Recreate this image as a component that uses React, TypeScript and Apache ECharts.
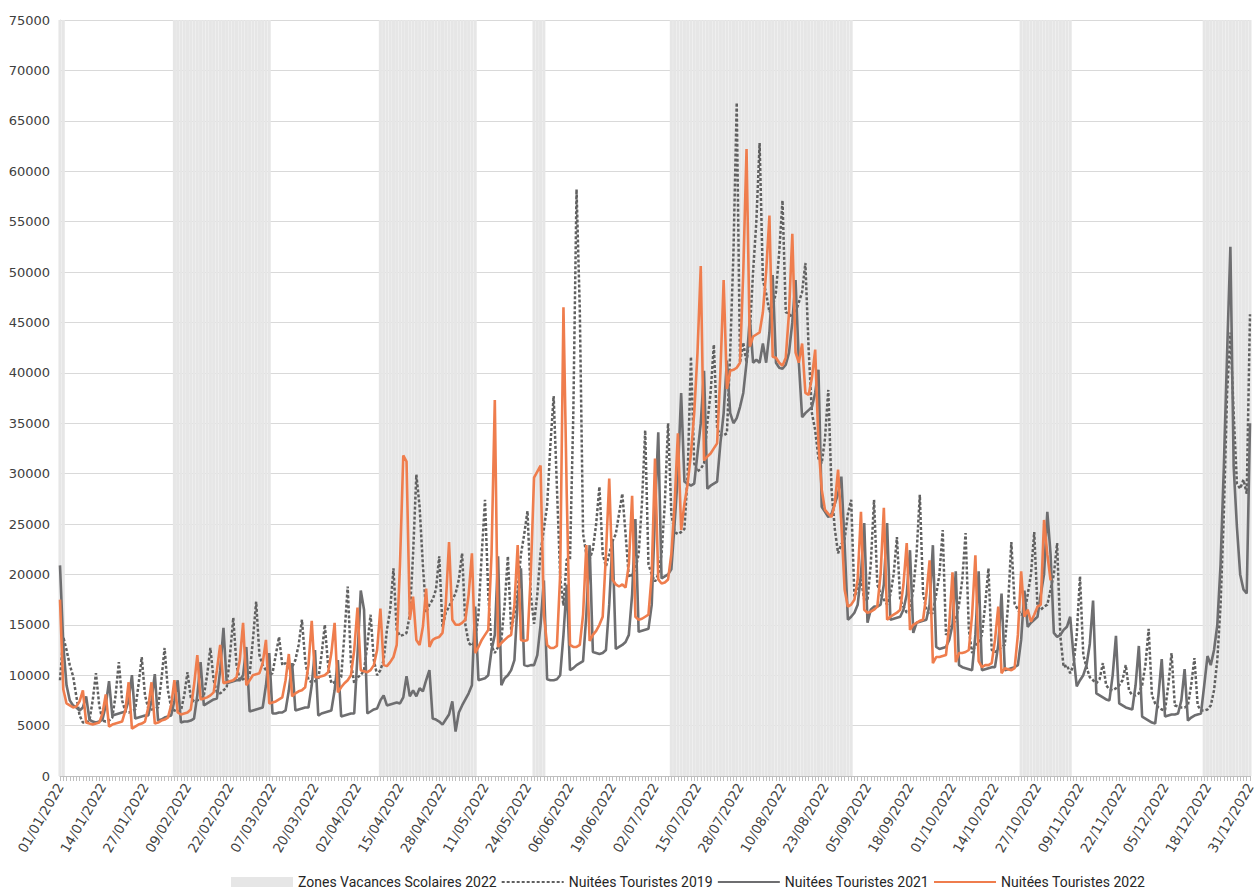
import React, { useEffect, useRef } from "react";
import * as echarts from "echarts";

// ---- categories (every day of 2022) ----
function buildDates(): string[] {
  const out: string[] = [];
  const start = Date.UTC(2022, 0, 1);
  for (let i = 0; i < 365; i++) {
    const d = new Date(start + i * 86400000);
    const dd = String(d.getUTCDate()).padStart(2, "0");
    const mm = String(d.getUTCMonth() + 1).padStart(2, "0");
    out.push(`${dd}/${mm}/${d.getUTCFullYear()}`);
  }
  return out;
}
const categories = buildDates();

// ---- school holiday periods (zones) 2022 ----
const holidayRanges: [string, string][] = [
  ["01/01/2022", "02/01/2022"],
  ["05/02/2022", "06/03/2022"],
  ["09/04/2022", "08/05/2022"],
  ["26/05/2022", "29/05/2022"],
  ["07/07/2022", "31/08/2022"],
  ["22/10/2022", "06/11/2022"],
  ["17/12/2022", "31/12/2022"],
];
const holidayHeight = 75000;

// ---- Nuitées Touristes 2019 ----
const nuitees2019 = [
  9500, 13800, 12500, 11000, 9900, 7900, 6000,
  5300, 5300, 5500, 7500, 10200, 7000, 5500,
  5400, 5500, 5800, 8000, 11300, 7500, 6400,
  6300, 6400, 6600, 9000, 11800, 8000, 6700,
  6600, 6700, 6800, 9500, 12700, 8500, 6800,
  6500, 6400, 6500, 8000, 10300, 7800, 7400,
  7500, 7600, 8000, 10000, 12700, 9500, 8300,
  8200, 8500, 8800, 12000, 15700, 11000, 9500,
  9600, 9800, 10000, 13500, 17300, 12000, 11000,
  10500, 10000, 10200, 12000, 13800, 11000, 11200,
  10500, 10800, 11500, 13000, 15500, 11500, 9500,
  9300, 9400, 9600, 12000, 15000, 11000, 9200,
  9300, 9500, 9800, 14000, 18800, 11200, 9200,
  9800, 10000, 10500, 13000, 16000, 11500, 10000,
  10500, 11500, 14500, 16500, 20600, 14500, 13900,
  14000, 14200, 16000, 22000, 29900, 26700, 20900,
  16200, 17000, 17500, 18500, 21800, 14800, 16200,
  16800, 17500, 18100, 19500, 22100, 15000, 13200,
  12900, 13500, 16000, 22000, 27400, 18000, 12900,
  12200, 12800, 13500, 17000, 21800, 14500, 16000,
  18500, 22000, 24000, 26300, 18000, 15100, 18000,
  22200, 24500, 26800, 32800, 37700, 28600, 19700,
  16900, 21500, 21500, 35700, 58200, 46200, 24000,
  22000, 21500, 22500, 25000, 28700, 22000, 20800,
  22000, 23300, 24000, 26000, 28000, 24000, 19700,
  20000, 20500, 22000, 27000, 34300, 21000, 20000,
  19300, 20000, 22000, 27000, 35000, 26000, 24200,
  24000, 24200, 24500, 30000, 41600, 31000, 30200,
  30500, 31000, 35000, 38000, 42800, 34500, 33800,
  33800, 34000, 42000, 52000, 66800, 41000, 43000,
  41000, 44000, 50000, 55000, 62800, 49200, 47900,
  46000, 46500, 48000, 52000, 57100, 46000, 45900,
  45500, 46000, 47000, 48000, 50900, 42300, 36000,
  34300, 31500, 31000, 33500, 38300, 28400, 24500,
  22100, 23000, 23500, 26000, 27400, 17800, 18500,
  19500, 17500, 17500, 21000, 27400, 19000, 18100,
  17500, 17000, 18000, 20000, 23700, 17500, 16800,
  16200, 16500, 18500, 22000, 27900, 18100, 16500,
  16000, 16200, 18000, 20000, 24400, 14000, 14500,
  15000, 15500, 17000, 19500, 24100, 14500, 12200,
  13000, 13200, 14000, 17000, 20600, 12500, 12300,
  12500, 12800, 13000, 17000, 23200, 17100, 16500,
  16000, 16200, 18000, 20000, 24200, 16700, 16500,
  16800, 17000, 18500, 20000, 23100, 13800, 10800,
  11000, 10200, 11000, 14000, 19800, 12000, 10800,
  9800, 9500, 9200, 9600, 11200, 9000, 8600,
  8500, 8700, 9000, 9500, 11000, 8500, 8000,
  8000, 8200, 9000, 11000, 14600, 8000, 7200,
  6800, 6600, 6500, 9000, 12200, 7000, 6900,
  6800, 6800, 7000, 9000, 11700, 7000, 6500,
  6500, 6600, 7000, 8500, 11500, 17000, 26000,
  38000, 44000, 36000, 29000, 28500, 29400, 28000,
  45800,
];

// ---- Nuitées Touristes 2021 ----
const nuitees2021 = [
  20900, 13000, 9000, 7500, 7000, 6800, 6500,
  6800, 7900, 5600, 5400, 5300, 5400, 5600,
  7000, 9400, 6000, 6100, 6200, 6300, 6400,
  7500, 10000, 5700, 5800, 5900, 6000, 6000,
  7500, 10100, 5500, 5600, 5800, 5900, 6000,
  7500, 9500, 5300, 5400, 5400, 5500, 5700,
  8000, 11300, 7000, 7200, 7400, 7600, 7700,
  10500, 14700, 9200, 9300, 9400, 9500, 9500,
  10000, 12800, 6400, 6500, 6600, 6700, 6800,
  9000, 12200, 6200, 6200, 6300, 6300, 6500,
  8500, 11200, 6500, 6600, 6700, 6800, 6800,
  9000, 12500, 6000, 6200, 6300, 6400, 6500,
  8500, 11500, 5900, 6000, 6100, 6200, 6200,
  12000, 18400, 16500, 6200, 6400, 6600, 6700,
  7500, 8000, 7000, 7100, 7200, 7300, 7200,
  7800, 9900, 7900, 8500, 7900, 8700, 8400,
  9500, 10500, 5700, 5600, 5400, 5100, 5600,
  6100, 7400, 4400, 6300, 7000, 7600, 8200,
  9000, 16800, 9500, 9600, 9700, 10000, 12500,
  14000, 21800, 9000, 9700, 10000, 10500, 11500,
  17500, 20600, 11000, 10900, 11000, 11000, 12000,
  15000, 19400, 9600, 9500, 9500, 9600, 10000,
  14000, 19000, 10500, 10700, 11000, 11200, 11400,
  16000, 22900, 12300, 12200, 12100, 12200, 12500,
  17000, 23300, 12600, 12800, 13000, 13300, 14000,
  18000, 25500, 14300, 14400, 14500, 14600, 17000,
  26000, 34100, 19600, 19800, 20000, 20500, 25000,
  30000, 38000, 29200, 29000, 28800, 29000, 32000,
  35000, 40200, 28500, 28800, 29000, 29200, 33000,
  36000, 41200, 36000, 35000, 35500, 36600, 38000,
  41000, 45400, 41000, 41300, 41000, 42900, 41000,
  44000, 49700, 41000, 40500, 40400, 40800, 42000,
  45000, 49200, 41000, 35600, 36000, 36300, 36600,
  38000, 40300, 26700, 26200, 25700, 26000, 27000,
  28000, 29700, 23000, 15500, 15800, 16200, 17000,
  20000, 25100, 15200, 16500, 16800, 16800, 17000,
  19000, 25100, 15500, 15600, 15700, 15800, 16500,
  18000, 22400, 14200, 15200, 15300, 15400, 15500,
  17000, 22900, 12800, 12600, 12700, 12800, 13500,
  15000, 20300, 11000, 10800, 10700, 10600, 10500,
  14000, 20300, 10500, 10600, 10700, 10800, 10800,
  13000, 18100, 10500, 10600, 10700, 10800, 11000,
  13500, 18400, 14800, 15200, 15500, 15800, 18000,
  20000, 26200, 22000, 14200, 13800, 14000, 14500,
  14800, 15800, 12000, 8900, 9500, 10000, 11000,
  13100, 17400, 8200, 8000, 7800, 7600, 7500,
  10000, 13900, 7200, 7000, 6800, 6700, 6600,
  9000, 12900, 5900, 5700, 5500, 5300, 5200,
  8000, 11600, 5900, 6000, 6100, 6100, 6200,
  7500, 10600, 5500, 5800, 6000, 6100, 6200,
  9000, 11900, 11000, 12500, 15000, 21000, 30700,
  42000, 52500, 30700, 24700, 20000, 18500, 18100,
  35000,
];

// ---- Nuitées Touristes 2022 (until 31/10) ----
const nuitees2022 = [
  17500, 8600, 7200, 7000, 6800, 6900, 7400,
  8500, 5300, 5200, 5100, 5200, 5300, 6200,
  8100, 4900, 5100, 5200, 5300, 5400, 6500,
  9300, 4700, 4900, 5100, 5200, 5400, 6800,
  9300, 5200, 5300, 5500, 5600, 5800, 7000,
  9500, 6300, 6100, 6200, 6300, 6600, 9000,
  12000, 7600, 7700, 7800, 8000, 8300, 10500,
  13000, 9200, 9300, 9400, 9500, 9800, 11500,
  15200, 9000, 9500, 10000, 10100, 10200, 11200,
  13500, 7200, 7300, 7400, 7600, 7800, 9500,
  12100, 7900, 8200, 8400, 8500, 8800, 11000,
  15400, 9800, 9800, 9900, 10000, 10300, 12200,
  15200, 8300, 8800, 9200, 9500, 10000, 12500,
  16700, 10500, 10400, 10300, 10500, 11000, 12500,
  16600, 11000, 10900, 11300, 11800, 13000, 21000,
  31800, 31200, 15500, 17800, 13500, 13000, 14800,
  18600, 12800, 13500, 13700, 13800, 14200, 17000,
  23200, 15500, 15000, 15000, 15200, 15500, 18000,
  22100, 12200, 12800, 13500, 14000, 14500, 22000,
  37300, 12800, 13200, 13500, 13800, 14000, 17000,
  22900, 13500, 13400, 13500, 20000, 29600, 30200,
  30800, 16000, 13000, 12700, 12700, 12900, 20000,
  46500, 28000, 13000, 12800, 12800, 13000, 16000,
  22900, 13400, 14000, 14400, 15000, 15800, 22000,
  29500, 19500, 19000, 18800, 19000, 18700, 21000,
  27800, 15800, 15500, 15600, 15800, 16000, 20000,
  31500, 19500, 19100, 19200, 19500, 22000, 27000,
  34000, 24400, 27000, 29000, 32000, 36000, 42000,
  50600, 31300, 31700, 32000, 32500, 33000, 40000,
  49200, 38400, 40200, 40300, 40500, 41000, 50000,
  62200, 42600, 43600, 43800, 44000, 46000, 50000,
  55600, 41600, 41500, 41000, 40700, 41500, 46000,
  53800, 42000, 41000, 42900, 38000, 37800, 39500,
  42300, 33000, 28400, 26400, 26000, 25700, 27000,
  30400, 25000, 18500, 16800, 17000, 17500, 19500,
  26200, 16500, 16200, 16300, 16500, 16800, 20000,
  26600, 15500, 15800, 16000, 16200, 16500, 19000,
  23100, 14500, 15000, 15200, 15400, 15500, 18000,
  21400, 11200, 11800, 11800, 11900, 12000, 15000,
  20200, 11300, 12200, 12200, 12300, 12500, 16000,
  21900, 11400, 10800, 11000, 11000, 11200, 13500,
  16800, 10200, 10700, 10600, 10500, 10700, 14000,
  20300, 15800, 16500, 15300, 16000, 16800, 17000,
  25400, 22000, 19400,
];

const yTicks = { min: 0, max: 75000, interval: 5000 };

const holidayData = categories.map((_, i) => {
  for (const [a, b] of holidayRanges) {
    const ia = categories.indexOf(a);
    const ib = categories.indexOf(b);
    if (i >= ia && i <= ib) return holidayHeight;
  }
  return null;
});

const FONT = "DejaVu Sans";
const C2019 = "#606060";
const C2021 = "#6e6e70";
const C2022 = "#ef7d4d";

export default function App() {
  const ref = useRef<HTMLDivElement>(null);
  useEffect(() => {
    if (!ref.current) return;
    const chart = echarts.init(ref.current, null, { renderer: "svg" });
    chart.setOption({
      animation: false,
      backgroundColor: "#ffffff",
      grid: { left: 60, right: 6, top: 20, bottom: 118, outerBoundsMode: "none" },
      legend: {
        left: 226,
        bottom: 0,
        itemWidth: 62,
        itemHeight: 10,
        itemGap: 4,
        textStyle: { fontFamily: "Roboto", fontSize: 14, color: "#262626" },
        data: [
          { name: "Zones Vacances Scolaires 2022", icon: "rect" },
          { name: "Nuitées Touristes 2019", itemStyle: { opacity: 0 } },
          { name: "Nuitées Touristes 2021", itemStyle: { opacity: 0 } },
          { name: "Nuitées Touristes 2022", itemStyle: { opacity: 0 } },
        ],
      },
      xAxis: {
        type: "category",
        data: categories,
        boundaryGap: false,
        axisLine: { lineStyle: { color: "#bfbfbf" } },
        axisTick: { show: true, interval: 0, length: 5, lineStyle: { color: "#bfbfbf" } },
        axisLabel: {
          interval: 12,
          rotate: 60,
          fontFamily: FONT,
          fontSize: 13.5,
          color: "#404040",
          margin: 8,
        },
        splitLine: { show: false },
      },
      yAxis: {
        type: "value",
        min: yTicks.min,
        max: yTicks.max,
        interval: yTicks.interval,
        axisLine: { show: true, lineStyle: { color: "#d9d9d9" } },
        axisTick: { show: false },
        axisLabel: {
          fontFamily: FONT,
          fontSize: 13,
          color: "#404040",
          margin: 10,
          formatter: (v: number) => String(v),
        },
        splitLine: { lineStyle: { color: "#d9d9d9", width: 1 } },
      },
      series: [
        {
          name: "Zones Vacances Scolaires 2022",
          type: "bar",
          data: holidayData,
          barCategoryGap: "6%",
          itemStyle: { color: "#e6e6e6" },
          silent: true,
        },
        {
          name: "Nuitées Touristes 2019",
          type: "line",
          data: nuitees2019,
          symbol: "none",
          lineStyle: { color: C2019, width: 2.5, type: [3, 2] },
          itemStyle: { color: C2019 },
        },
        {
          name: "Nuitées Touristes 2021",
          type: "line",
          data: nuitees2021,
          symbol: "none",
          lineStyle: { color: C2021, width: 2.6 },
          itemStyle: { color: C2021 },
        },
        {
          name: "Nuitées Touristes 2022",
          type: "line",
          data: nuitees2022,
          symbol: "none",
          lineStyle: { color: C2022, width: 2.6 },
          itemStyle: { color: C2022 },
        },
      ],
    });
    return () => chart.dispose();
  }, []);
  return (
    <div
      ref={ref}
      style={{ position: "absolute", left: 0, top: 0, width: 1256, height: 894 }}
    />
  );
}
